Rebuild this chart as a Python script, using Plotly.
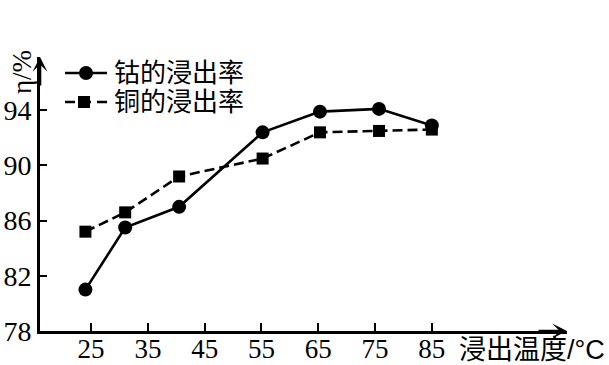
import plotly.graph_objects as go

# Leaching temperature (°C) and leaching rates η (%)
temps = [24, 31, 40.5, 55.2, 65.3, 75.7, 85]
cobalt_rate = [81.0, 85.5, 87.0, 92.4, 93.9, 94.1, 92.9]
copper_rate = [85.2, 86.6, 89.2, 90.5, 92.4, 92.5, 92.6]

x_ticks = [25, 35, 45, 55, 65, 75, 85]
y_ticks = [78, 82, 86, 90, 94]

series_names = ["钴的浸出率", "铜的浸出率"]
x_title = "浸出温度/°C"
y_title = "η/%"

FIG_W, FIG_H = 609, 365
L, R, T, B = 40, 42, 57, 34
PW, PH = FIG_W - L - R, FIG_H - T - B

NUM_FONT = "Liberation Serif"
CJK_FONT = "Liberation Sans, Noto Sans CJK SC"
LW = 2.6


def px(x):
    return (x - L) / PW


def py(y):
    return (FIG_H - B - y) / PH


fig = go.Figure()
fig.add_trace(go.Scatter(
    x=temps, y=copper_rate, mode="lines+markers", name=series_names[1],
    line=dict(color="black", width=LW, dash="10px,5px"),
    marker=dict(symbol="square", size=12, color="black"),
))
fig.add_trace(go.Scatter(
    x=temps, y=cobalt_rate, mode="lines+markers", name=series_names[0],
    line=dict(color="black", width=LW),
    marker=dict(symbol="circle", size=14, color="black"),
))

shapes = []
annotations = []

# legend drawn by hand: sample line, marker and label per row
rows = [(73, "circle", "solid", 86, series_names[0]),
        (102, "square", "dash", 84, series_names[1])]
for y, sym, dash, mx, label in rows:
    shapes.append(dict(type="line", xref="paper", yref="paper",
                       x0=px(65), x1=px(107), y0=py(y), y1=py(y),
                       line=dict(color="black", width=LW,
                                 dash="solid" if dash == "solid" else "10px,6px")))
    r = 7 if sym == "circle" else 6
    shapes.append(dict(type="circle" if sym == "circle" else "rect",
                       xref="paper", yref="paper",
                       x0=px(mx - r), x1=px(mx + r), y0=py(y + r), y1=py(y - r),
                       fillcolor="black", line=dict(color="black", width=0)))
    annotations.append(dict(xref="paper", yref="paper", x=px(112), y=py(y),
                            xanchor="left", yanchor="middle", showarrow=False,
                            text=label, font=dict(family=CJK_FONT, size=26, color="black")))

# axis arrowheads
x_end, y_end = 108.8, 97.86
annotations.append(dict(x=x_end, y=78, xref="x", yref="y", ax=-30, ay=0,
                        showarrow=True, arrowhead=3, arrowsize=0.95, arrowwidth=LW,
                        arrowcolor="black", text=""))
annotations.append(dict(x=16, y=y_end, xref="x", yref="y", ax=0, ay=30,
                        showarrow=True, arrowhead=3, arrowsize=0.95, arrowwidth=LW,
                        arrowcolor="black", text=""))

# axis titles
annotations.append(dict(xref="paper", yref="paper", x=px(457), y=py(350),
                        xanchor="left", yanchor="middle", showarrow=False,
                        text=x_title, font=dict(family=CJK_FONT, size=27, color="black")))
annotations.append(dict(xref="paper", yref="paper", x=px(22), y=py(72),
                        xanchor="center", yanchor="middle", showarrow=False,
                        textangle=-90, text=y_title,
                        font=dict(family=NUM_FONT, size=27, color="black")))

fig.update_layout(
    width=FIG_W, height=FIG_H,
    margin=dict(l=L, r=R, t=T, b=B, pad=0, autoexpand=False),
    paper_bgcolor="white", plot_bgcolor="white",
    showlegend=False,
    shapes=shapes, annotations=annotations,
    font=dict(family=NUM_FONT, size=27, color="black"),
)
fig.update_xaxes(
    range=[16, x_end], tickvals=x_ticks, ticktext=[str(v) for v in x_ticks],
    showline=True, linecolor="black", linewidth=LW, automargin=False,
    ticks="inside", ticklen=8, tickwidth=2, tickcolor="black",
    ticklabelstandoff=-8,
    showgrid=False, zeroline=False,
    tickfont=dict(family=NUM_FONT, size=27, color="black"),
)
fig.update_yaxes(
    range=[78, y_end], tickvals=y_ticks, ticktext=[str(v) for v in y_ticks],
    showline=True, linecolor="black", linewidth=LW, automargin=False,
    ticks="inside", ticklen=7, tickwidth=2, tickcolor="black",
    showgrid=False, zeroline=False,
    tickfont=dict(family=NUM_FONT, size=28, color="black"),
)

fig.write_html("out.html")
